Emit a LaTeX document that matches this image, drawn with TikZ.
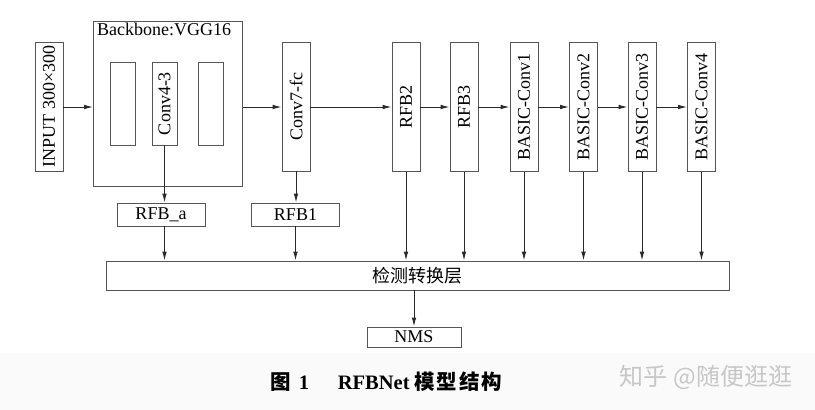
\documentclass[tikz,border=0pt]{standalone}
\usepackage{fontspec}
\setmainfont{Liberation Serif}
\newfontfamily\cjk{Noto Sans CJK SC}
\newfontfamily\cjkb{Noto Sans CJK SC Bold}
\usetikzlibrary{arrows.meta}
\definecolor{linec}{HTML}{2A2A2A}
\definecolor{boxc}{HTML}{555555}
\begin{document}
\begin{tikzpicture}[x=1pt,y=-1pt,
  box/.style={draw=boxc,line width=0.9pt,inner sep=0pt,fill=white},
  vbox/.style={box,minimum width=129pt,minimum height=28pt,rotate=90,anchor=center},
  hbox/.style={box,minimum width=88pt,minimum height=23pt},
  lbl/.style={font=\fontsize{18}{18}\selectfont},
  arr/.style={draw=linec,line width=1pt,-{Latex[length=9pt,width=4.6pt]}}
]
\useasboundingbox (0,0) rectangle (815,410);
\fill[white] (0,0) rectangle (815,353);
\fill[black!2] (0,353) rectangle (815,410);
% backbone
\node[box,minimum width=149pt,minimum height=165pt,anchor=north west] (bb) at (93,21) {};
\node[lbl,anchor=north west,inner sep=0pt] (bbl) at (97,23) {Backbone:VGG16};
\node[box,minimum width=25pt,minimum height=83pt] (in1) at (122.5,103.5) {};
\node[box,minimum width=25pt,minimum height=83pt] (c43) at (164.5,103.5) {};
\node[lbl,rotate=90] (c43t) at (164.5,103.5) {Conv4-3};
\node[box,minimum width=25pt,minimum height=83pt] (in3) at (210.5,103.5) {};
% vertical boxes
\node[vbox,lbl] (inp) at (49,106.5) {INPUT 300×300};
\node[vbox,lbl] (c7) at (296,106.5) {Conv7-fc};
\node[vbox,lbl] (r2) at (406,107) {RFB2};
\node[vbox,lbl] (r3) at (464,107) {RFB3};
\node[vbox,lbl] (b1) at (524,107) {BASIC-Conv1};
\node[vbox,lbl] (b2) at (583.5,107) {BASIC-Conv2};
\node[vbox,lbl] (b3) at (642,107) {BASIC-Conv3};
\node[vbox,lbl] (b4) at (701.5,107) {BASIC-Conv4};
% lower boxes
\node[hbox,lbl] (ra) at (161,214.5) {RFB\_a};
\node[hbox,lbl] (r1) at (295.5,214.5) {RFB1};
\node[box,minimum width=623pt,minimum height=29pt,lbl] (det) at (417.5,275.5) {\cjk 检测转换层};
\node[box,minimum width=94pt,minimum height=20pt,lbl] (nms) at (414,337) {NMS};
% horizontal arrows
\draw[arr] (inp.south |- 0,107) -- (bb.west |- 0,107);
\draw[arr] (bb.east |- 0,107) -- (c7.north |- 0,107);
\draw[arr] (c7.south |- 0,107) -- (r2.north |- 0,107);
\draw[arr] (r2.south |- 0,107) -- (r3.north |- 0,107);
\draw[arr] (r3.south |- 0,107) -- (b1.north |- 0,107);
\draw[arr] (b1.south |- 0,107) -- (b2.north |- 0,107);
\draw[arr] (b2.south |- 0,107) -- (b3.north |- 0,107);
\draw[arr] (b3.south |- 0,107) -- (b4.north |- 0,107);
% down arrows
\draw[arr] (c43.south) -- (c43.south |- ra.north);
\draw[arr] (c7.west) -- (c7.west |- r1.north);
\draw[arr] (c43.south |- ra.south) -- (c43.south |- det.north);
\draw[arr] (r1.south) -- (r1.south |- det.north);
\draw[arr] (r2.west) -- (r2.west |- det.north);
\draw[arr] (r3.west) -- (r3.west |- det.north);
\draw[arr] (b1.west) -- (b1.west |- det.north);
\draw[arr] (b2.west) -- (b2.west |- det.north);
\draw[arr] (b3.west) -- (b3.west |- det.north);
\draw[arr] (b4.west) -- (b4.west |- det.north);
\draw[arr] (det.south -| nms.north) -- (nms.north);
% caption
\node[font=\fontsize{20.5}{20.5}\selectfont\bfseries] (cap) at (386,382) {{\cjkb 图}\hspace{0.4em}1\hspace{1.4em}RFBNet\hspace{0.25em}{\cjkb 模\hspace{0.08em}型\hspace{0.08em}结\hspace{0.08em}构}};
\node[font=\fontsize{24}{24}\selectfont\cjk,text=black!22] (wm) at (706,377) {知乎 @随便逛逛};
\end{tikzpicture}
\end{document}
